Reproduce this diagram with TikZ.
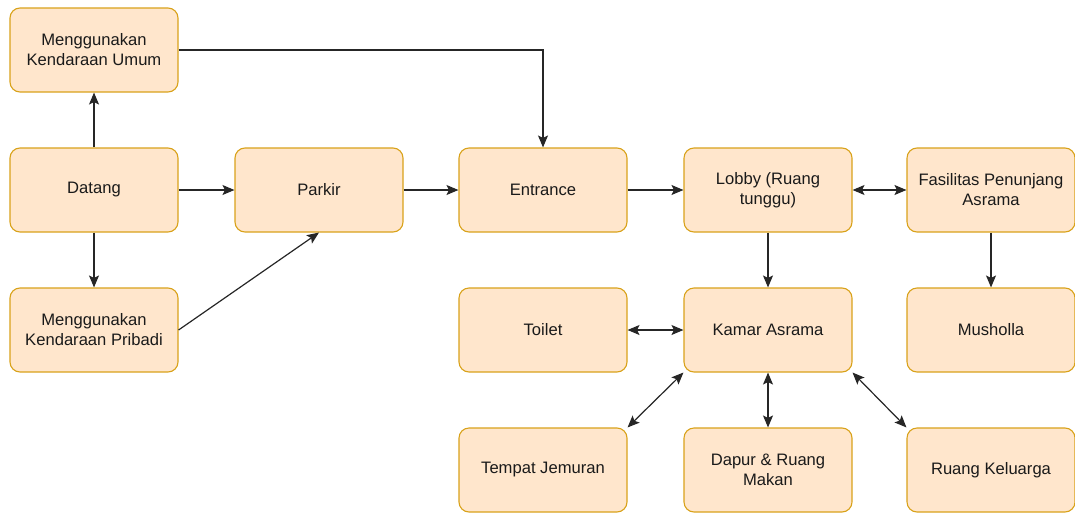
\documentclass[tikz,border=0pt]{standalone}
\usepackage{fontspec}
\setmainfont{Liberation Sans}
\usetikzlibrary{arrows.meta}
\definecolor{boxfill}{HTML}{FFE6CC}
\definecolor{boxline}{HTML}{D9A21A}
\definecolor{txt}{HTML}{1A1A1A}
\tikzset{
  box/.style={draw=boxline, fill=boxfill, line width=1.1pt, rounded corners=10pt,
    minimum width=168pt, minimum height=84pt, inner sep=0pt, align=center,
    text=txt, font=\fontsize{16.6}{20}\selectfont},
  conn/.style={draw=black!85, line width=1.2pt, -{Stealth[length=12pt,width=10pt,inset=2.5pt]}},
  biconn/.style={draw=black!85, line width=1.2pt, {Stealth[length=12pt,width=10pt,inset=2.5pt]}-{Stealth[length=12pt,width=10pt,inset=2.5pt]}}
}
\begin{document}
\begin{tikzpicture}[x=1pt,y=-1pt]
\useasboundingbox (0,0) rectangle (1075,514);
\node[box] (umum) at (94,50) {Menggunakan\\Kendaraan Umum};
\node[box] (datang) at (94,190) {Datang};
\node[box] (pribadi) at (94,330) {Menggunakan\\Kendaraan Pribadi};
\node[box] (parkir) at (319,190) {Parkir};
\node[box] (entrance) at (543,190) {Entrance};
\node[box] (lobby) at (768,190) {Lobby (Ruang\\tunggu)};
\node[box] (fasilitas) at (991,190) {Fasilitas Penunjang\\Asrama};
\node[box] (toilet) at (543,330) {Toilet};
\node[box] (kamar) at (768,330) {Kamar Asrama};
\node[box] (musholla) at (991,330) {Musholla};
\node[box] (jemuran) at (543,470) {Tempat Jemuran};
\node[box] (dapur) at (768,470) {Dapur \& Ruang\\Makan};
\node[box] (keluarga) at (991,470) {Ruang Keluarga};

\draw[conn] (datang) -- (umum);
\draw[conn] (datang) -- (pribadi);
\draw[conn] (datang) -- (parkir);
\draw[conn] (pribadi.east) -- (parkir.south);
\draw[conn] (umum.east) -| (entrance.north);
\draw[conn] (parkir) -- (entrance);
\draw[conn] (entrance) -- (lobby);
\draw[biconn] (lobby) -- (fasilitas);
\draw[conn] (lobby) -- (kamar);
\draw[conn] (fasilitas) -- (musholla);
\draw[biconn] (kamar) -- (toilet);
\draw[biconn] (kamar.south west) -- (jemuran.north east);
\draw[biconn] (kamar.south) -- (dapur.north);
\draw[biconn] (kamar.south east) -- (keluarga.north west);
\end{tikzpicture}
\end{document}
